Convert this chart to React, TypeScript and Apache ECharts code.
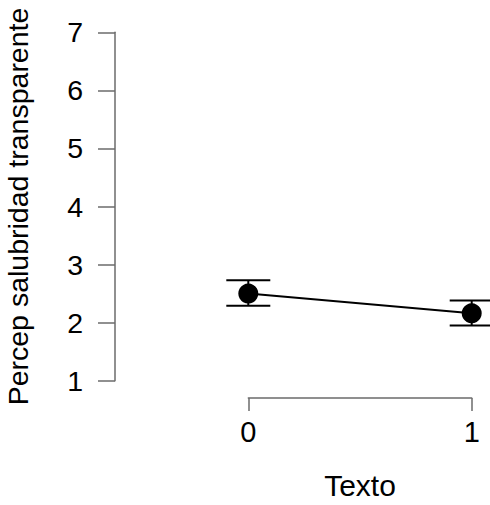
import React, { useEffect, useRef } from "react";
import * as echarts from "echarts";

const categories = [0, 1];
const means = [2.5, 2.16];
const lowerCI = [2.29, 1.95];
const upperCI = [2.73, 2.38];
const yTicks = [1, 2, 3, 4, 5, 6, 7];
const xTitle = "Texto";
const yTitle = "Percep salubridad transparente";

const FONT = "'Liberation Sans', Arial, Helvetica, sans-serif";

export default function App() {
  const ref = useRef<HTMLDivElement>(null);
  useEffect(() => {
    if (!ref.current) return;
    const chart = echarts.init(ref.current, null, { renderer: "svg" });
    const axisColor = "#6b6b6b";
    chart.setOption({
      animation: false,
      backgroundColor: "#ffffff",
      grid: { left: 248.3, right: 18.3, top: 32.3, bottom: 118.3, containLabel: false },
      xAxis: {
        type: "value",
        min: categories[0],
        max: categories[categories.length - 1],
        interval: 1,
        offset: 17.3,
        name: xTitle,
        nameLocation: "middle",
        nameGap: 72,
        nameTextStyle: { fontFamily: FONT, fontSize: 30, color: "#000" },
        axisLine: { show: true, onZero: false, lineStyle: { color: axisColor, width: 1.5 } },
        axisTick: { show: true, length: 13, lineStyle: { color: axisColor, width: 1.5 } },
        axisLabel: { fontFamily: FONT, fontSize: 29, color: "#000", margin: 19 },
        splitLine: { show: false },
      },
      yAxis: {
        type: "value",
        min: yTicks[0],
        max: yTicks[yTicks.length - 1],
        interval: 1,
        offset: 133.3,
        name: yTitle,
        nameLocation: "middle",
        nameGap: 83,
        nameRotate: 90,
        nameTextStyle: { fontFamily: FONT, fontSize: 28.5, color: "#000" },
        axisLine: { show: true, onZero: false, lineStyle: { color: axisColor, width: 1.5 } },
        axisTick: { show: true, length: 17, lineStyle: { color: axisColor, width: 1.5 } },
        axisLabel: { fontFamily: FONT, fontSize: 28.5, color: "#000", margin: 32 },
        splitLine: { show: false },
      },
      series: [
        {
          type: "custom",
          clip: false,
          z: 2,
          data: categories.map((c, i) => [c, lowerCI[i], upperCI[i]]),
          renderItem: (params: any, api: any) => {
            const x = api.value(0);
            const lo = api.coord([x, api.value(1)]);
            const hi = api.coord([x, api.value(2)]);
            const hw = 22;
            const st = { stroke: "#000", lineWidth: 2 };
            return {
              type: "group",
              children: [
                { type: "line", shape: { x1: lo[0], y1: lo[1], x2: hi[0], y2: hi[1] }, style: st },
                { type: "line", shape: { x1: lo[0] - hw, y1: lo[1], x2: lo[0] + hw, y2: lo[1] }, style: st },
                { type: "line", shape: { x1: hi[0] - hw, y1: hi[1], x2: hi[0] + hw, y2: hi[1] }, style: st },
              ],
            };
          },
        },
        {
          type: "line",
          z: 3,
          clip: false,
          data: categories.map((c, i) => [c, means[i]]),
          symbol: "circle",
          symbolSize: 20,
          itemStyle: { color: "#000" },
          lineStyle: { color: "#000", width: 2 },
        },
      ],
    });
    return () => chart.dispose();
  }, []);
  return (
    <div
      ref={ref}
      style={{ position: "fixed", left: 0, top: 0, width: 490, height: 505, background: "#fff" }}
    />
  );
}
